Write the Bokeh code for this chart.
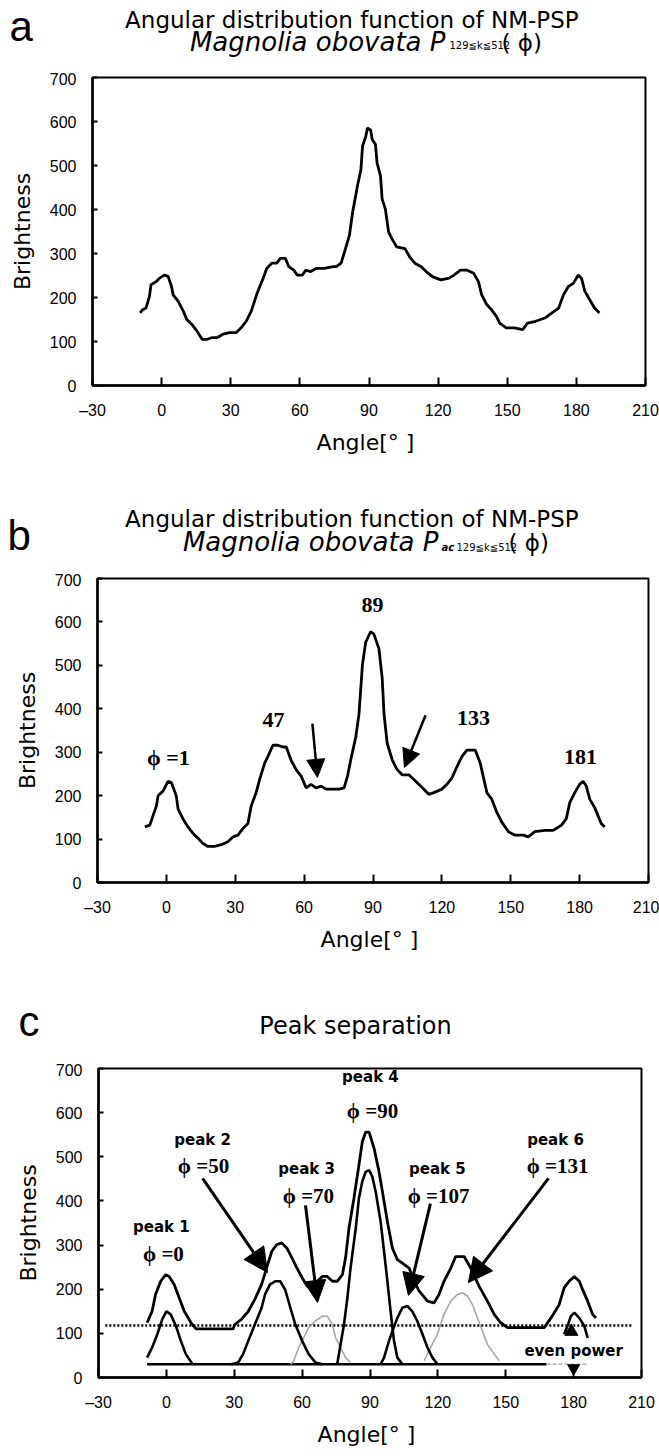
from bokeh.plotting import figure
from bokeh.layouts import column
from bokeh.models import Range1d, FixedTicker, Label, Arrow, NormalHead
from bokeh.embed import file_html
from bokeh.resources import INLINE

# ---------------- data ----------------
X_TICKS = [-30, 0, 30, 60, 90, 120, 150, 180, 210]
Y_TICKS = [0, 100, 200, 300, 400, 500, 600, 700]

# panel a : angular distribution function P_{129<=k<=512}(phi)
a_angle = [-9.3, -8.3, -6.8, -5.3, -4.6, -2.4, -0.9, 1.3, 2.8, 4.3, 5.0, 7.2, 9.4, 10.9, 13.1,
           15.3, 17.6, 19.8, 22.0, 24.2, 26.4, 29.4, 32.3, 34.5, 36.7, 38.9, 41.2, 42.6, 44.1,
           45.6, 47.8, 50.0, 51.5, 53.7, 55.2, 57.4, 58.8, 61.1, 62.5, 64.7, 67.0, 70.6, 74.3,
           75.8, 77.9, 79.4, 81.5, 82.9, 85.0, 86.5, 87.2, 88.6, 89.3, 90.7, 91.4, 92.8, 93.5,
           95.0, 95.7, 97.1, 98.5, 99.9, 102.0, 105.6, 107.7, 109.9, 112.7, 114.8, 117.7, 121.2,
           124.8, 126.9, 129.7, 132.6, 135.4, 137.5, 138.9, 141.1, 143.2, 145.3, 146.7, 149.6,
           153.1, 156.7, 158.8, 162.3, 166.6, 169.4, 172.3, 174.4, 176.5, 178.7, 180.8, 182.2,
           183.7, 185.8, 187.9, 190.0]
a_bright = [165, 172, 176, 202, 229, 236, 244, 251, 248, 225, 206, 191, 169, 150, 139,
            124, 105, 105, 109, 109, 116, 120, 120, 131, 146, 169, 206, 225, 244,
            266, 278, 278, 289, 289, 270, 262, 251, 251, 262, 259, 266, 266, 270,
            270, 278, 304, 341, 394, 454, 491, 544, 566, 585, 581, 559, 548, 506,
            476, 424, 401, 349, 334, 315, 311, 292, 278, 270, 259, 247, 240,
            244, 251, 262, 262, 255, 236, 206, 184, 172, 157, 142, 131,
            131, 127, 142, 146, 154, 165, 176, 206, 225, 232, 251, 244,
            214, 195, 176, 165]

# panel b : P_ac
b_angle = [-9.4, -7.2, -5.8, -4.3, -3.6, -1.4, 0.7, 2.2, 4.3, 5.1, 7.2, 9.4, 11.6, 13.8, 15.9,
           18.1, 21.0, 23.9, 26.8, 29.0, 31.2, 33.3, 35.5, 37.0, 39.1, 40.6, 42.8, 44.2, 46.4,
           48.6, 50.7, 52.2, 54.3, 56.5, 58.7, 60.9, 63.0, 65.2, 67.4, 69.6, 71.7, 75.3, 77.4,
           78.9, 80.3, 82.5, 83.9, 85.4, 86.8, 89.0, 90.4, 92.6, 94.0, 94.8, 96.2, 98.4, 100.5,
           102.7, 105.6, 107.8, 110.7, 114.3, 116.5, 120.0, 122.2, 124.4, 126.6, 128.7, 130.9,
           134.5, 136.7, 139.6, 141.7, 143.9, 146.1, 149.0, 151.8, 155.5, 157.6, 160.5, 164.9,
           168.5, 172.1, 174.2, 175.7, 177.9, 180.0, 181.5, 182.9, 184.4, 186.5, 188.0, 189.4,
           190.9]
b_bright = [128, 132, 154, 177, 200, 211, 233, 230, 200, 169, 147, 128, 113, 102, 90,
            83, 83, 87, 94, 105, 109, 124, 136, 177, 207, 237, 275, 290, 316,
            316, 312, 312, 282, 260, 245, 218, 226, 218, 222, 215, 215, 215, 218,
            245, 282, 335, 388, 501, 553, 578, 572, 538, 471, 388, 320, 282, 260,
            248, 248, 237, 222, 203, 207, 215, 226, 241, 267, 290, 305,
            305, 275, 207, 192, 162, 139, 117, 109, 109, 105, 117, 120,
            120, 132, 147, 184, 207, 226, 233, 222, 192, 173, 154, 136,
            128]
b_peak_angle = [1, 47, 89, 133, 181]

# panel c : peak separation
c_angle = [-8.5, -6.3, -4.8, -2.5, -0.3, 1.2, 3.4, 5.7, 7.9, 10.9, 13.1, 29.5, 30.2, 33.2, 36.2,
           39.1, 42.1, 44.3, 46.6, 48.8, 51.0, 53.3, 55.5, 57.7, 60.0, 62.2, 64.4, 66.7, 68.9,
           71.1, 73.4, 75.5, 77.8, 79.2, 80.7, 82.9, 85.1, 86.6, 88.1, 89.6, 91.8, 94.0, 95.5,
           97.7, 99.9, 102.1, 104.3, 107.3, 109.5, 111.7, 115.4, 118.3, 120.5, 122.7, 125.7,
           127.9, 131.6, 134.5, 138.2, 141.9, 144.9, 147.8, 150.8, 167.0, 170.0, 173.6, 175.8,
           178.0, 180.3, 182.5, 184.0, 186.2, 188.4, 189.9]
c_bright = [124, 150, 188, 218, 233, 229, 211, 180, 150, 124, 110, 110, 120, 132, 150,
            177, 211, 248, 286, 301, 305, 293, 271, 248, 226, 207, 203, 218, 229,
            229, 218, 218, 233, 271, 338, 406, 481, 534, 556, 556, 519, 466, 421,
            353, 293, 267, 259, 248, 218, 196, 173, 169, 188, 218, 248,
            274, 274, 248, 207, 173, 143, 124, 113, 113, 135, 165, 203,
            218, 229, 218, 199, 173, 143, 135]

p1_angle = [-8.5, -6.3, -4.0, -1.8, 0.0, 1.9, 4.2, 6.4, 8.6, 11.6]
p1_bright = [45, 68, 98, 132, 150, 143, 117, 83, 53, 30]
p2_angle = [28.7, 31.7, 33.9, 36.2, 39.1, 42.1, 43.6, 45.8, 48.1, 50.3, 52.5, 54.8, 57.0, 60.0,
            62.9, 65.9, 68.9]
p2_bright = [30, 34, 53, 83, 120, 158, 188, 211, 218, 218, 199, 158, 120, 83, 53, 34, 30]
p3_angle = [55.0, 56.3, 58.5, 60.7, 62.9, 65.9, 68.9, 71.1, 73.4, 74.8, 77.0, 79.2, 81.4]
p3_bright = [30, 38, 68, 90, 113, 128, 139, 139, 120, 90, 68, 45, 34]
p4_angle = [75.5, 77.0, 78.5, 80.0, 81.4, 83.7, 85.1, 86.6, 88.1, 89.6, 91.0, 92.5, 94.7, 96.2,
            97.7, 99.1, 100.6, 102.1, 104.3]
p4_bright = [30, 75, 120, 180, 248, 338, 406, 444, 466, 470, 455, 421, 353, 286, 218, 150,
             83, 45, 30]
p5_angle = [94.7, 96.2, 98.4, 99.9, 102.1, 104.3, 106.5, 108.7, 110.9, 113.2, 115.4, 117.6, 119.8]
p5_bright = [30, 45, 83, 105, 135, 158, 162, 150, 128, 98, 68, 45, 30]
p6_angle = [113.9, 116.8, 119.8, 122.7, 125.7, 128.6, 130.9, 133.1, 135.3, 137.5, 139.7, 141.9,
            144.9, 147.1]
p6_bright = [38, 68, 98, 143, 173, 188, 192, 184, 165, 135, 105, 75, 53, 38]
even_angle = [175.8, 177.3, 178.8, 180.3, 182.5, 184.7, 186.2]
even_bright = [98, 117, 139, 147, 135, 117, 90]

base_level = 30        # baseline of separated peaks
dotted_level = 118     # dotted reference level
base_x = [-8.5, 168.0]
base_grey_x = [168.0, 186.0]
dotted_x = [-27.0, 206.0]

c_peak_names = ["peak 1", "peak 2", "peak 3", "peak 4", "peak 5", "peak 6"]
c_peak_phi = [0, 50, 70, 90, 107, 131]

TITLE_1 = "Angular distribution  function of NM-PSP"
TITLE_2 = "Magnolia obovata P"
SUB_K = "129\u2266k\u2266512"
PHI_ARG = "( \u03d5)"
PHI = "\u03d5"

# ---------------- helpers ----------------
SANS = "DejaVu Sans"
TICKF = "Liberation Sans"
SERIF = "Liberation Serif"
W = 659


def make_fig(height, bl, br, bt, bb):
    p = figure(width=W, height=height, x_range=Range1d(-30, 210), y_range=Range1d(0, 700),
               output_backend="svg", toolbar_location=None, title=None,
               min_border_left=bl, min_border_right=br, min_border_top=bt, min_border_bottom=bb)
    p.frame_align = False
    p.grid.visible = False
    p.background_fill_color = "white"
    p.border_fill_color = "white"
    p.outline_line_color = "black"
    p.outline_line_width = 2
    p.xaxis.ticker = FixedTicker(ticks=X_TICKS)
    p.yaxis.ticker = FixedTicker(ticks=Y_TICKS)
    p.xaxis.major_label_overrides = {-30: "\u201330"}
    for ax in (p.xaxis[0], p.yaxis[0]):
        ax.axis_line_color = "black"
        ax.axis_line_width = 2.5
        ax.major_tick_line_color = "black"
        ax.major_tick_line_width = 2
        ax.major_tick_out = 0
        ax.minor_tick_line_color = None
        ax.major_label_text_font = TICKF
        ax.major_label_text_font_size = "16px"
        ax.major_label_text_color = "black"
        ax.axis_label_text_font = SANS
        ax.axis_label_text_font_size = "22px"
        ax.axis_label_text_font_style = "normal"
        ax.axis_label_text_color = "black"
    p.xaxis.major_tick_in = 8
    p.yaxis.major_tick_in = 5
    p.xaxis.major_label_standoff = 16
    p.yaxis.major_label_standoff = 16
    p.xaxis.axis_label = "Angle[\u00b0  ]"
    p.yaxis.axis_label = "Brightness"
    p.xaxis.axis_label_standoff = 8
    p.yaxis.axis_label_standoff = 12
    return p


def make_header(height):
    # blank strip above a panel for its letter and title (coordinates in pixels, y downward)
    h = figure(width=W, height=height, x_range=Range1d(0, W), y_range=Range1d(height, 0),
               output_backend="svg", toolbar_location=None, x_axis_type=None, y_axis_type=None,
               title=None, min_border=0)
    h.frame_align = False
    h.grid.visible = False
    h.outline_line_color = None
    h.background_fill_color = "white"
    h.border_fill_color = "white"
    return h


def lab(p, x, y, text, font=SANS, size="23px", style="normal", align="center",
        baseline="middle"):
    p.add_layout(Label(x=x, y=y, text=text, text_font=font, text_font_size=size,
                       text_font_style=style, text_align=align, text_baseline=baseline,
                       text_color="black"))


def arrow(p, xs, ys, xe, ye, size=18, width=2.5):
    p.add_layout(Arrow(end=NormalHead(size=size, fill_color="black", line_color="black"),
                       x_start=xs, y_start=ys, x_end=xe, y_end=ye,
                       line_color="black", line_width=width))


# ---------------- panel a ----------------
ha = make_header(72)
lab(ha, 9, 26, "a", font=TICKF, size="42px", align="left")
lab(ha, 355, 19, TITLE_1, size="23px")
lab(ha, 445, 41, TITLE_2, size="26px", style="italic", align="right")
lab(ha, 449, 45, SUB_K, size="10px", align="left")
lab(ha, 501, 42, PHI_ARG, size="23px", align="left")

pa = make_fig(403, 92, 14, 5, 90)
pa.line(a_angle, a_bright, line_color="black", line_width=2.8)

# ---------------- panel b ----------------
hb = make_header(98)
lab(hb, 7, 60, "b", font=TICKF, size="42px", align="left")
lab(hb, 355, 43, TITLE_1, size="23px")
lab(hb, 438, 66, TITLE_2, size="26px", style="italic", align="right")
lab(hb, 441, 72, "ac", size="10px", style="bold italic", align="left")
lab(hb, 456, 72, SUB_K, size="10px", align="left")
lab(hb, 508, 67, PHI_ARG, size="23px", align="left")

pb = make_fig(392, 97, 11, 5, 83)
pb.line(b_angle, b_bright, line_color="black", line_width=2.8)
b_label_pos = [(0.9, 288), (46.7, 375), (89.8, 640), (133.8, 378), (180.4, 288)]
for ang, (lx, ly) in zip(b_peak_angle, b_label_pos):
    txt = PHI + " =%d" % ang if ang == b_peak_angle[0] else "%d" % ang
    lab(pb, lx, ly, txt, font=SERIF, size="22px", style="bold")
arrow(pb, 63.6, 366, 65.8, 242, size=18)
arrow(pb, 112.9, 385, 103.7, 265, size=18)

# ---------------- panel c ----------------
hc = make_header(98)
lab(hc, 18, 56, "c", font=TICKF, size="42px", align="left")
lab(hc, 355, 60, "Peak separation", size="24px")

pc = make_fig(393, 98, 18, 5, 79)
pc.line(dotted_x, [dotted_level, dotted_level], line_color="black", line_width=2.5,
        line_dash="2 2")
pc.line(base_x, [base_level, base_level], line_color="black", line_width=2.5)
pc.line(base_grey_x, [base_level, base_level], line_color="#b0b0b0", line_width=1.5,
        line_dash="4 2")
grey = "#a8a8a8"
pc.line(p3_angle, p3_bright, line_color=grey, line_width=1.6)
pc.line(p6_angle, p6_bright, line_color=grey, line_width=1.6)
for xa, ya in ((p1_angle, p1_bright), (p2_angle, p2_bright), (p4_angle, p4_bright),
               (p5_angle, p5_bright), (even_angle, even_bright)):
    pc.line(xa, ya, line_color="black", line_width=2.6)
pc.line(c_angle, c_bright, line_color="black", line_width=2.8)

name_pos = [(-2.2, 342), (16.0, 539), (62.0, 473), (90.2, 680), (119.8, 473), (172.0, 539)]
phi_pos = [(-1.3, 279), (16.4, 478), (62.8, 412), (91.1, 603), (120.3, 412), (172.9, 478)]
for name, phi, (nx, ny), (fx, fy) in zip(c_peak_names, c_peak_phi, name_pos, phi_pos):
    lab(pc, nx, ny, name, size="15px", style="bold")
    lab(pc, fx, fy, PHI + " =%d" % phi, font=SERIF, size="21px", style="bold")
arrow(pc, 16.0, 451, 44.7, 238, size=24, width=3)
arrow(pc, 61.5, 390, 66.8, 170, size=22, width=3)
arrow(pc, 116.7, 394, 107.0, 186, size=22, width=3)
arrow(pc, 168.9, 451, 133.5, 215, size=24, width=3)

lab(pc, 180, 59, "even power", size="15px", style="bold")
pc.scatter([179.0], [104], marker="triangle", size=13, fill_color="black", line_color="black")
pc.scatter([180.0], [21], marker="inverted_triangle", size=12, fill_color="black",
           line_color="black")

layout = column(ha, pa, hb, pb, hc, pc, spacing=0)
open("out.html", "w").write(file_html(layout, INLINE))
